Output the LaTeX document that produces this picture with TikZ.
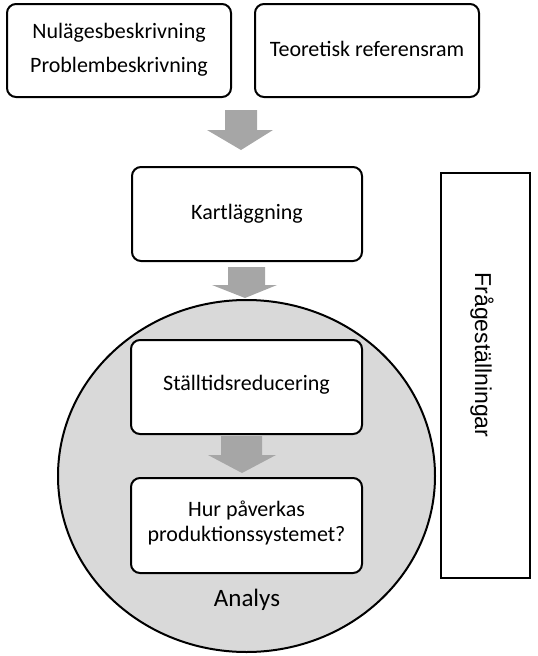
\documentclass[tikz,border=0pt]{standalone}
\usepackage{fontspec}
\setmainfont{Carlito}
\newfontfamily\arialfont{Liberation Sans}
\begin{document}
\begin{tikzpicture}[x=1pt,y=-1pt,
  rbox/.style={draw=black,line width=2pt,rounded corners=9pt,fill=white},
  blockarrow/.style={fill=arrowgray,draw=none},
  txt/.style={font=\fontsize{22}{30}\selectfont,align=center,inner sep=0pt}]
\definecolor{arrowgray}{HTML}{A6A6A6}
\definecolor{circlegray}{HTML}{D9D9D9}
\useasboundingbox (0,0) rectangle (538,656);
% boxes
\draw[rbox] (7,4) rectangle (231,97);
\node[txt,font=\fontsize{22}{34}\selectfont] (nul) at (119,50) {Nulägesbeskrivning\\Problembeskrivning};
\draw[rbox] (255,4) rectangle (479,97);
\node[txt] (teo) at (367,49) {Teoretisk referensram};
% arrow 1
\fill[blockarrow] (225,110) -- (257,110) -- (257,130) -- (273,130) -- (241,150) -- (207,130) -- (225,130) -- cycle;
\draw[rbox] (132,167) rectangle (362,261);
\node[txt] (kart) at (247,214) {Kartläggning};
% circle
\draw[line width=2pt,fill=circlegray] (246.5,476) ellipse [x radius=188.5,y radius=176];
% arrow 2
\fill[blockarrow] (228,267) -- (265,267) -- (265,285) -- (277,285) -- (245,298) -- (212,285) -- (228,285) -- cycle;
% Frågeställningar
\draw[line width=2pt,fill=white] (441,173) rectangle (530,578);
\node[font=\arialfont\fontsize{23}{28}\selectfont,rotate=-90,inner sep=0pt] (fraga) at (482,355) {Frågeställningar};
% inner boxes
\draw[rbox] (131,340) rectangle (362,434);
\node[txt] (stall) at (246.5,385) {Ställtidsreducering};
\fill[blockarrow] (221,436) -- (262,436) -- (262,455) -- (276,455) -- (242,473) -- (208,455) -- (221,455) -- cycle;
\draw[rbox] (131,478) rectangle (362,573);
\node[txt,font=\fontsize{22}{25}\selectfont] (hur) at (246.5,523) {Hur påverkas\\produktionssystemet?};
\node[txt,font=\fontsize{25}{30}\selectfont] (analys) at (247,600) {Analys};
\end{tikzpicture}
\end{document}
